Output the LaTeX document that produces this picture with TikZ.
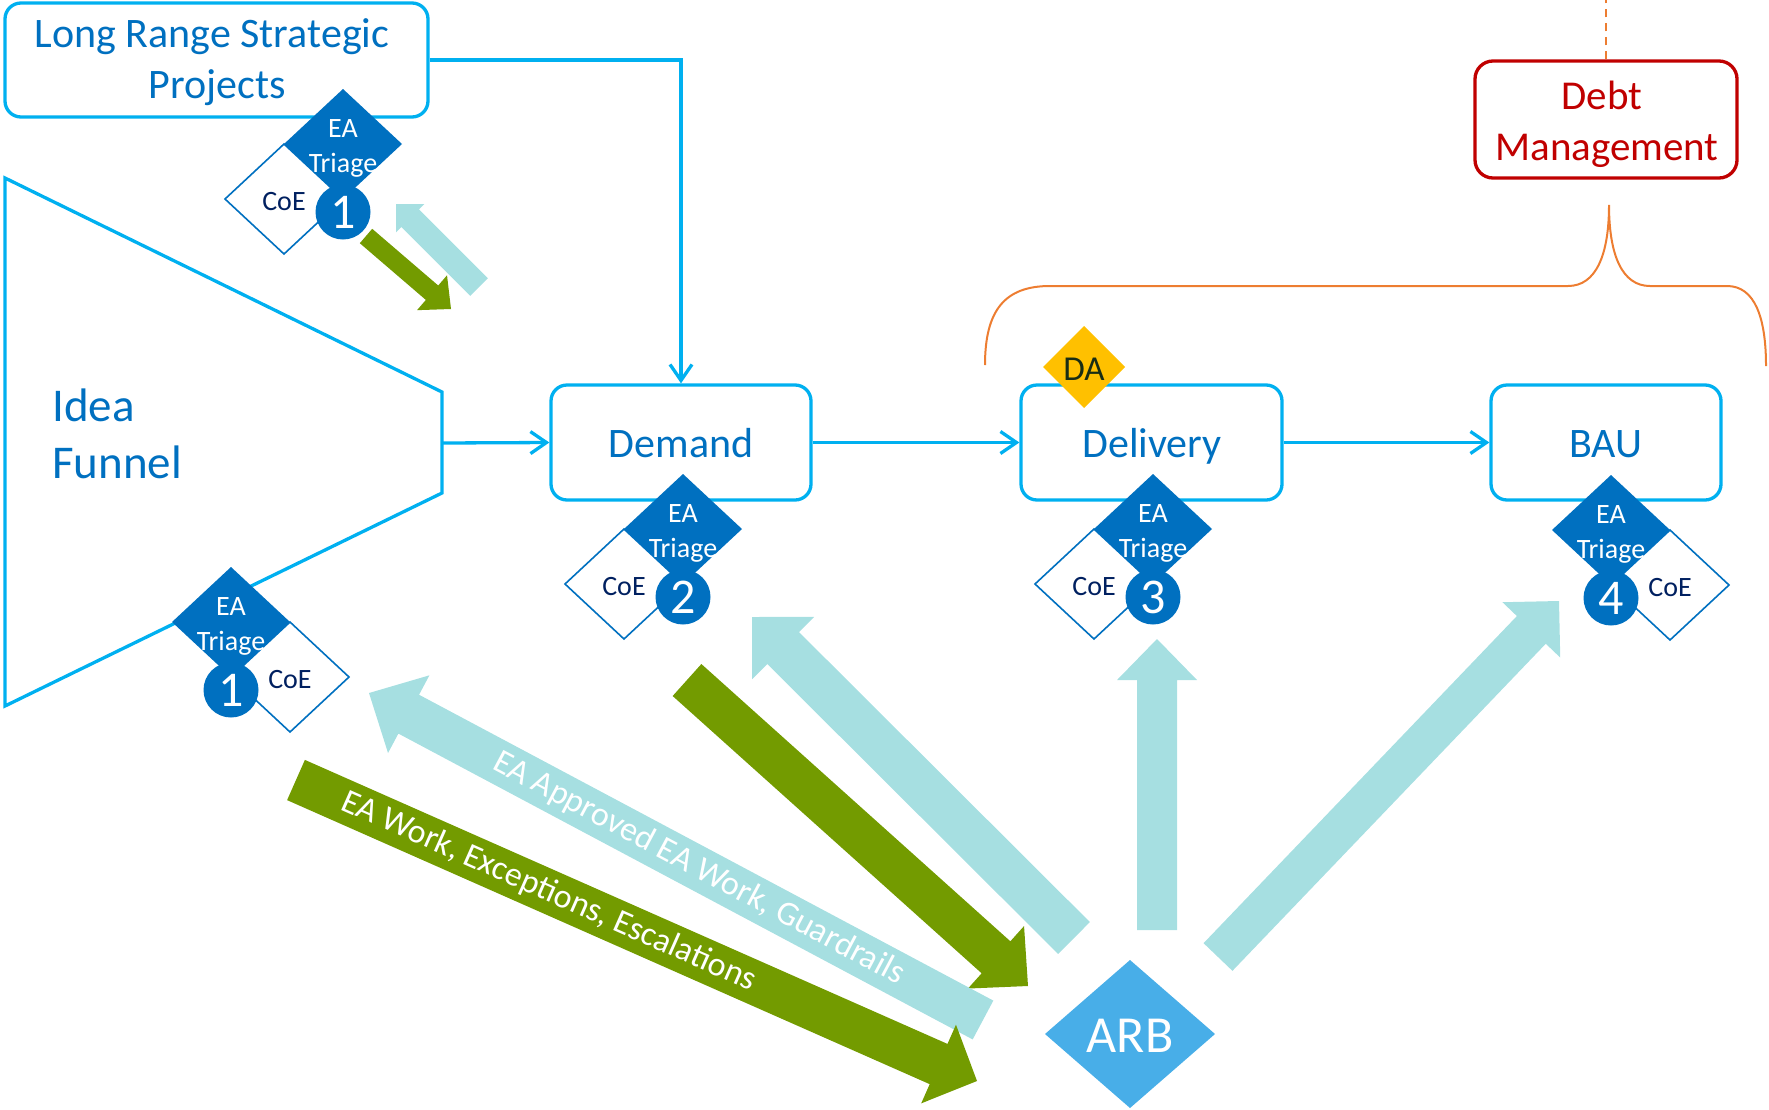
\documentclass[tikz,border=0pt]{standalone}
\usepackage{fontspec}
\setmainfont{Carlito}
\usetikzlibrary{calc,arrows.meta}
\definecolor{lineblue}{RGB}{0,176,240}
\definecolor{textblue}{RGB}{0,112,192}
\definecolor{triblue}{RGB}{0,112,192}
\definecolor{coenavy}{RGB}{0,32,96}
\definecolor{arbblue}{RGB}{72,174,232}
\definecolor{lcyan}{RGB}{166,223,225}
\definecolor{agreen}{RGB}{115,155,0}
\definecolor{debtred}{RGB}{192,0,0}
\definecolor{braceorange}{RGB}{237,125,49}
\definecolor{dayellow}{RGB}{255,192,0}
\definecolor{datext}{RGB}{25,45,20}
\tikzset{
 box/.style={draw=lineblue, line width=3.3pt, rounded corners=16pt, fill=white, inner sep=0pt},
 boxtext/.style={text=textblue, font=\fontsize{42}{50}\selectfont, anchor=base, inner sep=0pt},
 conn/.style={draw=lineblue, line width=3.3pt, -{Straight Barb[length=16pt,width=22pt]}},
 tritext/.style={text=white, font=\fontsize{28}{34}\selectfont, anchor=base, inner sep=0pt},
 coebox/.style={fill=white, draw=triblue, line width=1.6pt},
 coetext/.style={text=coenavy, font=\fontsize{28}{34}\selectfont, anchor=base, inner sep=0pt},
 numtext/.style={text=white, font=\fontsize{50}{60}\selectfont, inner sep=0pt},
 arrtext/.style={text=white, font=\fontsize{34}{40}\selectfont, inner sep=0pt},
}
% block arrow: #1 colour, #2 tail, #3 tip, #4 half shaft, #5 half head, #6 head length
\newcommand\barrow[6]{%
 \coordinate (hb) at ($(#3)!#6!(#2)$);
 \fill[#1] ($(#2)!#4!90:(#3)$) -- ($(hb)!#4!90:(#3)$) -- ($(hb)!#5!90:(#3)$) -- (#3)
   -- ($(hb)!#5!-90:(#3)$) -- ($(hb)!#4!-90:(#3)$) -- ($(#2)!#4!-90:(#3)$) -- cycle;}
% triage group: #1 name, #2 x, #3 y, #4 side of CoE (-1/1), #5 number
\newcommand\tgroup[5]{%
\begin{scope}[shift={(#2,#3)}]
 \fill[triblue] (0,-55) -- (59,0) -- (0,55) -- (-59,0) -- cycle;
 \filldraw[coebox] (0,55) -- (#4*59,0) -- (#4*118,55) -- (#4*59,110) -- cycle;
 \node[tritext] (#1ea) at (0,-7) {EA};
 \node[tritext] (#1tr) at (0,28) {Triage};
 \node[coetext] (#1coe) at (#4*59,66) {CoE};
 \fill[triblue] (0,68) circle (27.5pt);
 \node[numtext] (#1num) at (0,68) {#5};
\end{scope}}
\begin{document}
\begin{tikzpicture}[x=1pt,y=-1pt]
\useasboundingbox (0,0) rectangle (1769,1109);

% funnel
\draw[lineblue, line width=3.3pt, line join=miter] (5,178) -- (442,392) -- (442,493) -- (5,706) -- cycle;
\coordinate (funR) at (442,443);
\node[text=textblue, font=\fontsize{47}{57}\selectfont, anchor=base west, inner sep=0pt] (idea) at (52,421) {Idea};
\node[text=textblue, font=\fontsize{47}{57}\selectfont, anchor=base west, inner sep=0pt] (funnel) at (52,478) {Funnel};

% boxes
\node[box, minimum width=423pt, minimum height=114pt] (lrsp) at (216.5,60) {};
\node[boxtext] (lrsp1) at (212,47) {Long Range Strategic};
\node[boxtext] (lrsp2) at (217,98) {Projects};
\node[box, minimum width=260pt, minimum height=115pt] (demand) at (681,442.5) {};
\node[boxtext] (demandt) at (681,457) {Demand};
\node[box, minimum width=261pt, minimum height=115pt] (delivery) at (1151.5,442.5) {};
\node[boxtext] (deliveryt) at (1152,457) {Delivery};
\node[box, minimum width=230pt, minimum height=115pt] (bau) at (1606,442.5) {};
\node[boxtext] (baut) at (1606,457) {BAU};

% debt management
\node[draw=debtred, line width=3.3pt, rounded corners=18pt, minimum width=262pt, minimum height=117pt, inner sep=0pt] (debt) at (1606,119.5) {};
\node[text=debtred, font=\fontsize{41}{50}\selectfont, anchor=base, inner sep=0pt] (debt1) at (1602,109) {Debt};
\node[text=debtred, font=\fontsize{41}{50}\selectfont, anchor=base, inner sep=0pt] (debt2) at (1607,160) {Management};
\coordinate (dtop) at (1606,0);
\draw[braceorange, line width=2pt, dash pattern=on 8pt off 6pt] (debt.north) -- (dtop);
\draw[braceorange, line width=2pt] (985,365) .. controls (985,310) and (1005,286) .. (1050,286)
  -- (1568,286) .. controls (1596,286) and (1609,255) .. (1609,205)
  .. controls (1609,255) and (1622,286) .. (1650,286) -- (1727,286)
  .. controls (1755,286) and (1766,318) .. (1766,366);

% connectors
\draw[conn] (funR) -- (demand.west);
\draw[conn] (demand.east) -- (delivery.west);
\draw[conn] (delivery.east) -- (bau.west);
\draw[conn] (lrsp.east) -| (demand.north);

% DA
\fill[dayellow] (1084,326) -- (1125,367) -- (1084,408) -- (1043,367) -- cycle;
\node[text=datext, font=\fontsize{35}{42}\selectfont, anchor=base, inner sep=0pt] (da) at (1084,380) {DA};

% triage groups
\tgroup{ga}{343}{144}{-1}{1}
\tgroup{gb}{231}{622}{1}{1}
\tgroup{gc}{683}{529}{-1}{2}
\tgroup{gd}{1153}{529}{-1}{3}
\tgroup{ge}{1611}{530}{1}{4}

% ARB
\fill[arbblue] (1130,960) -- (1215,1034) -- (1130,1108) -- (1045,1034) -- cycle;
\node[text=white, font=\fontsize{52}{60}\selectfont, anchor=base, inner sep=0pt] (arb) at (1130,1052) {ARB};

% block arrows
\coordinate (aT) at (1157,930); \coordinate (aH) at (1157,639);
\coordinate (bT) at (1218,957); \coordinate (bH) at (1559,601);
\coordinate (cT) at (1074,938); \coordinate (cH) at (752,617);
\coordinate (dT) at (687,680);  \coordinate (dH) at (1028,986);
\coordinate (eT) at (983,1020); \coordinate (eH) at (369,693);
\coordinate (fT) at (296,780);  \coordinate (fH) at (977,1081);
\coordinate (gT) at (366,236);  \coordinate (gH) at (451,309);
\coordinate (hT) at (479,287);  \coordinate (hH) at (396,204);
\barrow{lcyan}{aT}{aH}{20pt}{40pt}{41pt}
\barrow{lcyan}{bT}{bH}{20pt}{40pt}{40pt}
\barrow{lcyan}{cT}{cH}{22.5pt}{44pt}{44pt}
\barrow{agreen}{dT}{dH}{21.5pt}{42pt}{43pt}
\barrow{lcyan}{eT}{eH}{22pt}{44pt}{45pt}
\barrow{agreen}{fT}{fH}{22pt}{43pt}{42pt}
\barrow{agreen}{gT}{gH}{9.5pt}{23pt}{25pt}
\barrow{lcyan}{hT}{hH}{12.5pt}{20pt}{20pt}
\path (eT) -- (eH) node[arrtext, sloped, pos=0.463] (etext) {EA Approved EA Work, Guardrails};
\path (fT) -- (fH) node[arrtext, sloped, pos=0.371] (ftext) {EA Work, Exceptions, Escalations};
\end{tikzpicture}
\end{document}
